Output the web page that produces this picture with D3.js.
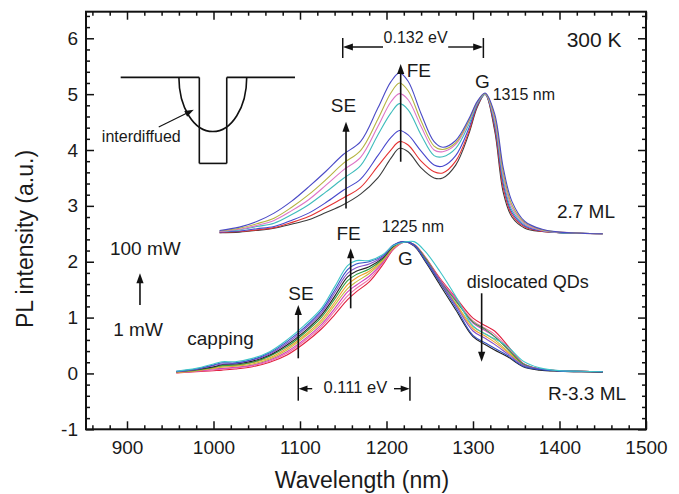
<!DOCTYPE html>
<html><head><meta charset="utf-8">
<script src="https://cdn.jsdelivr.net/npm/d3@7"></script>
<style>
body{margin:0;background:#fff}
svg{display:block}
text{font-family:"Liberation Sans",Arial,Helvetica,sans-serif;fill:#1a1a1a}
</style>
</head><body>
<svg id="c" width="679" height="494"></svg>
<script>
// ---------------- DATA ----------------
const xTicks = [900, 1000, 1100, 1200, 1300, 1400, 1500];
const yTicks = [-1, 0, 1, 2, 3, 4, 5, 6];

// upper spectra set (2.7 ML), 7 excitation powers
const upperWl = [1007,1030,1050,1070,1090,1110,1130,1150,1170,1190,1205,1215,1225,1240,1255,1265,1280,1295,1305,1314,1325,1335,1345,1360,1380,1400,1425,1450];
const upperColors = ["#4a4ac6","#b5b440","#de74c6","#3fbcbc","#4747cc","#e53232","#3c3c3c"];
const u1 = [2.56,2.62,2.72,2.87,3.08,3.34,3.62,3.92,4.15,4.75,5.22,5.38,5.23,4.65,4.15,4.05,4.17,4.55,4.87,5.02,4.65,3.68,3.08,2.72,2.58,2.53,2.51,2.50];
const u2 = [2.55,2.60,2.68,2.78,2.97,3.20,3.47,3.76,3.99,4.55,5.02,5.20,5.06,4.52,4.07,4.01,4.13,4.52,4.86,5.01,4.60,3.60,3.02,2.70,2.57,2.53,2.51,2.50];
const u3 = [2.54,2.58,2.65,2.74,2.91,3.11,3.37,3.64,3.87,4.42,4.86,5.01,4.90,4.42,4.00,3.97,4.10,4.50,4.85,5.01,4.55,3.54,2.97,2.68,2.56,2.53,2.51,2.50];
const u4 = [2.54,2.57,2.63,2.69,2.84,3.02,3.25,3.49,3.72,4.27,4.66,4.83,4.72,4.27,3.90,3.88,4.03,4.45,4.83,5.00,4.50,3.47,2.92,2.66,2.56,2.52,2.51,2.50];
const u5 = [2.53,2.55,2.59,2.63,2.74,2.87,3.06,3.28,3.48,3.90,4.22,4.35,4.27,3.98,3.73,3.71,3.90,4.38,4.81,5.00,4.45,3.40,2.88,2.64,2.55,2.52,2.51,2.50];
const u6 = [2.52,2.54,2.57,2.61,2.70,2.81,2.97,3.14,3.33,3.71,4.00,4.15,4.09,3.80,3.61,3.59,3.80,4.32,4.79,5.00,4.40,3.32,2.84,2.62,2.54,2.52,2.51,2.50];
const u7 = [2.52,2.53,2.56,2.60,2.67,2.75,2.88,3.02,3.21,3.50,3.85,4.03,3.97,3.68,3.50,3.50,3.73,4.28,4.77,5.00,4.35,3.24,2.80,2.60,2.54,2.52,2.51,2.50];

// lower spectra set (R-3.3 ML), 10 excitation powers
const lowerWl = [957,980,1000,1010,1025,1045,1065,1085,1105,1125,1140,1155,1165,1180,1195,1208,1220,1232,1245,1262,1280,1300,1315,1325,1340,1358,1377,1400,1425,1450];
const lowerColors = ["#3ec4c8","#3450c4","#8650c8","#222222","#2fa044","#f0a030","#c4bc3c","#d040c0","#f070a4","#e0203e"];
const l1 = [.04,.09,.17,.21,.21,.27,.39,.60,.86,1.17,1.55,1.93,2.02,2.02,2.12,2.29,2.35,2.36,2.18,1.82,1.38,.85,.70,.62,.48,.22,.10,.05,.04,.03];
const l2 = [.04,.08,.15,.19,.19,.25,.37,.57,.82,1.13,1.49,1.86,1.96,2.00,2.10,2.30,2.36,2.30,2.02,1.62,1.18,.68,.54,.45,.32,.13,.07,.04,.03,.03];
const l3 = [.03,.07,.14,.17,.18,.24,.35,.54,.79,1.09,1.44,1.79,1.89,1.96,2.08,2.29,2.36,2.29,2.03,1.66,1.22,.76,.62,.52,.35,.15,.08,.05,.04,.03];
const l4 = [.03,.07,.12,.16,.17,.22,.33,.51,.75,1.05,1.38,1.73,1.83,1.91,2.06,2.28,2.36,2.28,2.00,1.58,1.14,.66,.51,.42,.30,.12,.06,.04,.03,.02];
const l5 = [.03,.06,.11,.14,.15,.20,.31,.48,.72,1.01,1.33,1.66,1.77,1.87,2.04,2.27,2.36,2.30,2.06,1.66,1.30,.92,.78,.66,.44,.17,.08,.05,.04,.03];
const l6 = [.02,.05,.10,.13,.14,.19,.28,.45,.68,.96,1.27,1.59,1.71,1.83,2.02,2.26,2.36,2.29,2.04,1.62,1.24,.80,.66,.56,.38,.15,.07,.04,.03,.03];
const l7 = [.02,.05,.09,.11,.13,.17,.26,.42,.65,.92,1.22,1.52,1.64,1.79,2.00,2.25,2.36,2.30,2.05,1.64,1.26,.84,.70,.60,.40,.16,.08,.05,.04,.03];
const l8 = [.02,.04,.08,.09,.11,.15,.24,.39,.61,.88,1.16,1.46,1.58,1.74,1.98,2.24,2.36,2.30,2.06,1.66,1.32,.90,.76,.66,.44,.17,.08,.05,.04,.03];
const l9 = [.01,.04,.06,.08,.10,.14,.22,.36,.58,.84,1.11,1.39,1.52,1.69,1.96,2.23,2.35,2.31,2.07,1.68,1.34,.94,.80,.70,.47,.18,.08,.05,.04,.03];
const l10 = [.01,.03,.05,.06,.08,.12,.20,.33,.54,.80,1.05,1.32,1.46,1.64,1.93,2.22,2.35,2.31,2.08,1.70,1.36,.99,.85,.76,.50,.18,.08,.05,.04,.03];

// ---------------- CHART ----------------
const svg = d3.select("#c");
const L = 86, R = 646, T = 11.7, B = 429.3;
const x = d3.scaleLinear().domain([852.6, 1500]).range([L, R]);
const y = d3.scaleLinear().domain([-1, 6.476]).range([B, T]);

const upperSeries = [u1,u2,u3,u4,u5,u6,u7];
const lowerSeries = [l1,l2,l3,l4,l5,l6,l7,l8,l9,l10];

const line = d3.line().curve(d3.curveCatmullRom.alpha(0.5));

const gLines = svg.append("g");
upperSeries.slice().reverse().forEach((s, i) => {
  const idx = upperSeries.length - 1 - i;
  gLines.append("path")
    .attr("d", line(s.map((v, j) => [x(upperWl[j]), y(v)])))
    .attr("fill", "none").attr("stroke", upperColors[idx]).attr("stroke-width", 1.1);
});
lowerSeries.slice().reverse().forEach((s, i) => {
  const idx = lowerSeries.length - 1 - i;
  gLines.append("path")
    .attr("d", line(s.map((v, j) => [x(lowerWl[j]), y(v)])))
    .attr("fill", "none").attr("stroke", lowerColors[idx]).attr("stroke-width", 1.1);
});

// axes
const minorX = d3.range(860, 1501, 20).filter(v => v % 100 !== 0);
const minorY = d3.range(-10, 65, 2).map(v => v / 10).filter(v => Math.abs(v - Math.round(v)) > 1e-6);
const plainFmt = d => String(d);

function styleAxis(g) {
  g.select(".domain").remove();
  g.selectAll("line").attr("stroke", "#111").attr("stroke-width", 1.5);
  g.selectAll("text").attr("font-size", 19).attr("fill", "#1a1a1a")
    .attr("font-family", '"Liberation Sans",Arial,sans-serif');
}
svg.append("g").attr("transform", `translate(0,${B})`)
  .call(d3.axisBottom(x).tickValues(xTicks).tickSizeInner(-8).tickSizeOuter(0).tickPadding(11).tickFormat(plainFmt))
  .call(styleAxis);
svg.append("g").attr("transform", `translate(0,${B})`)
  .call(d3.axisBottom(x).tickValues(minorX).tickSizeInner(-4).tickSizeOuter(0).tickFormat(""))
  .call(styleAxis);
svg.append("g").attr("transform", `translate(0,${T})`)
  .call(d3.axisTop(x).tickValues(xTicks).tickSizeInner(-8).tickSizeOuter(0).tickFormat(""))
  .call(styleAxis);
svg.append("g").attr("transform", `translate(0,${T})`)
  .call(d3.axisTop(x).tickValues(minorX).tickSizeInner(-4).tickSizeOuter(0).tickFormat(""))
  .call(styleAxis);
svg.append("g").attr("transform", `translate(${L},0)`)
  .call(d3.axisLeft(y).tickValues(yTicks).tickSizeInner(-8).tickSizeOuter(0).tickPadding(8).tickFormat(plainFmt))
  .call(styleAxis);
svg.append("g").attr("transform", `translate(${L},0)`)
  .call(d3.axisLeft(y).tickValues(minorY).tickSizeInner(-4).tickSizeOuter(0).tickFormat(""))
  .call(styleAxis);
svg.append("g").attr("transform", `translate(${R},0)`)
  .call(d3.axisRight(y).tickValues(yTicks).tickSizeInner(-8).tickSizeOuter(0).tickFormat(""))
  .call(styleAxis);
svg.append("g").attr("transform", `translate(${R},0)`)
  .call(d3.axisRight(y).tickValues(minorY).tickSizeInner(-4).tickSizeOuter(0).tickFormat(""))
  .call(styleAxis);

svg.append("rect").attr("x", L).attr("y", T).attr("width", R - L).attr("height", B - T)
  .attr("fill", "none").attr("stroke", "#111").attr("stroke-width", 2);

// axis titles
svg.append("text").attr("x", 362).attr("y", 488).attr("text-anchor", "middle")
  .attr("font-size", 23).text("Wavelength (nm)");
svg.append("text").attr("transform", "translate(33,239) rotate(-90)").attr("text-anchor", "middle")
  .attr("font-size", 23).text("PL intensity (a.u.)");

// ---------------- ANNOTATIONS ----------------
const ann = svg.append("g");
function txt(wl, v, s, size, anchor) {
  ann.append("text").attr("x", x(wl)).attr("y", y(v)).attr("font-size", size)
    .attr("text-anchor", anchor || "start").text(s);
}
function seg(w1, v1, w2, v2, sw) {
  ann.append("line").attr("x1", x(w1)).attr("y1", y(v1)).attr("x2", x(w2)).attr("y2", y(v2))
    .attr("stroke", "#111").attr("stroke-width", sw || 1.5);
}
function arrow(w1, v1, w2, v2, hl, hw, sw) {
  hl = hl || 10; hw = hw || 3.6;
  const x1 = x(w1), y1 = y(v1), x2 = x(w2), y2 = y(v2);
  const dx = x2 - x1, dy = y2 - y1, len = Math.hypot(dx, dy);
  const ux = dx / len, uy = dy / len;
  const bx = x2 - ux * hl, by = y2 - uy * hl;
  ann.append("line").attr("x1", x1).attr("y1", y1).attr("x2", bx + ux).attr("y2", by + uy)
    .attr("stroke", "#111").attr("stroke-width", sw || 1.6);
  ann.append("path").attr("d", `M${x2},${y2}L${bx - uy * hw},${by + ux * hw}L${bx + uy * hw},${by - ux * hw}Z`)
    .attr("fill", "#111");
}

txt(1408.3, 5.85, "300 K", 21);
// 0.132 eV span
txt(1233.7, 5.916, "0.132 eV", 16, "middle");
seg(1149.4, 6.005, 1149.4, 5.647);
seg(1312.0, 6.005, 1312.0, 5.647);
arrow(1196.0, 5.844, 1149.6, 5.844, 10, 3.4, 1.4);
arrow(1271.3, 5.844, 1311.8, 5.844, 10, 3.4, 1.4);

txt(1223.3, 5.30, "FE", 19);
arrow(1216.4, 3.79, 1216.4, 5.54);
txt(1302.2, 5.105, "G", 19);
txt(1322.8, 4.895, "1315 nm", 16);
txt(1135.5, 4.686, "SE", 19);
arrow(1153.2, 2.954, 1153.2, 4.505);
txt(1397.0, 2.777, "2.7 ML", 19);

txt(1194.5, 2.538, "1225 nm", 16);
txt(1142.2, 2.389, "FE", 19);
arrow(1158.6, 1.166, 1158.6, 2.240);
txt(1213.3, 1.941, "G", 19);
txt(1086.5, 1.315, "SE", 19);
arrow(1098.0, 0.271, 1098.0, 1.225);
txt(969.7, 0.509, "capping", 19);
txt(1292.8, 1.524, "dislocated QDs", 18);
arrow(1310.0, 1.435, 1310.0, 0.210);
txt(1386.6, -0.475, "R-3.3 ML", 19);

// 0.111 eV span
txt(1127.3, -0.350, "0.111 eV", 16.5);
seg(1098.0, -0.058, 1098.0, -0.488);
seg(1227.1, -0.058, 1227.1, -0.488);
arrow(1114.1, -0.273, 1098.3, -0.273, 9, 3.2, 1.4);
arrow(1208.7, -0.273, 1226.8, -0.273, 9, 3.2, 1.4);

// power
txt(880.3, 2.121, "100 mW", 19);
txt(884.1, 0.670, "1 mW", 19);
arrow(915.0, 1.225, 915.0, 1.792);

// inset: quantum well schematic
seg(892.7, 5.30, 983.6, 5.30, 1.6);
seg(1015.3, 5.30, 1094.2, 5.30, 1.6);
seg(983.6, 5.30, 983.6, 3.76, 1.6);
seg(983.6, 3.76, 1015.3, 3.76, 1.6);
seg(1015.3, 3.76, 1015.3, 5.30, 1.6);
{
  const rx = (x(1038.4) - x(960)) / 2, ry = y(4.33) - y(5.30);
  ann.append("path")
    .attr("d", `M${x(960)},${y(5.30)}A${rx},${ry} 0 0,0 ${x(1038.4)},${y(5.30)}`)
    .attr("fill", "none").attr("stroke", "#111").attr("stroke-width", 1.6);
}
txt(870.9, 4.15, "interdiffued", 16);
arrow(936.7, 4.41, 977.2, 4.72, 9, 3.2, 1.1);
</script>
</body></html>
